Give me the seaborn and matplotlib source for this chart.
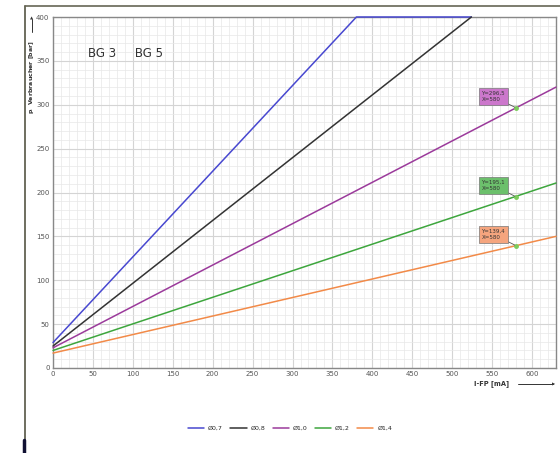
import numpy as np
import pandas as pd
import matplotlib.pyplot as plt
import seaborn as sns
from matplotlib.lines import Line2D
from matplotlib.ticker import MultipleLocator

# Kennlinien p_Verbraucher über I-FP
serien = ['Ø0,7', 'Ø0,8', 'Ø1,0', 'Ø1,2', 'Ø1,4']
farben = ['#4848d0', '#333333', '#9b3a9b', '#3da63d', '#f28a48']
x_07 = [0, 380, 524]
y_07 = [29, 400, 400]
x_08 = [0, 524]
y_08 = [25, 400]
x_10 = [0, 630]
y_10 = [23, 320.1]
x_12 = [0, 630]
y_12 = [20, 210.8]
x_14 = [0, 630]
y_14 = [17, 150.0]

# Markierte Punkte
mark_x = [580, 580, 580]
mark_y = [296.5, 195.1, 139.4]
mark_txt = ['Y=296,5\nX=580', 'Y=195,1\nX=580', 'Y=139,4\nX=580']
mark_col = ['#cc77cc', '#6cc06c', '#f5a57e']

rows = []
for name, xs, ys in zip(serien, [x_07, x_08, x_10, x_12, x_14],
                        [y_07, y_08, y_10, y_12, y_14]):
    for xv, yv in zip(xs, ys):
        rows.append({'I-FP': xv, 'p': yv, 'Düse': name})
df = pd.DataFrame(rows)

sns.set_style('white')
plt.rcParams['font.family'] = ['DejaVu Sans']

fig = plt.figure(figsize=(5.6, 4.53), dpi=100)
ax = fig.add_axes([53 / 560, 1 - 368 / 453, 503 / 560, 351 / 453])

sns.lineplot(data=df, x='I-FP', y='p', hue='Düse', palette=farben,
             sort=False, estimator=None, linewidth=1.1, ax=ax, legend=False)
for ln in ax.lines:
    ln.set_clip_on(False)
    ln.set_zorder(4)

ax.set_xlim(0, 630)
ax.set_ylim(0, 400)
ax.xaxis.set_major_locator(MultipleLocator(50))
ax.yaxis.set_major_locator(MultipleLocator(50))
ax.xaxis.set_minor_locator(MultipleLocator(10))
ax.yaxis.set_minor_locator(MultipleLocator(10))
ax.grid(which='major', color='#d4d4d4', linewidth=0.8)
ax.grid(which='minor', color='#e8e8e8', linewidth=0.5)
ax.set_axisbelow(True)
ax.tick_params(which='both', length=0, labelsize=5, labelcolor='#555555', pad=2.5)
ax.set_xlabel('')
ax.set_ylabel('')
for s in ax.spines.values():
    s.set_color('#888888')
    s.set_linewidth(1.0)

ax.text(44, 358, 'BG 3     BG 5', fontsize=8.5, color='#333333', va='center')

# Datenmarken mit Beschriftung
for mx, my, t, c in zip(mark_x, mark_y, mark_txt, mark_col):
    ax.plot(mx, my, 'o', color='#7ccc5c', markersize=2.5, zorder=6)
    ax.annotate(t, xy=(mx, my), xytext=(-25, 4), textcoords='offset points',
                fontsize=4.0, color='#333333', ha='left', va='bottom',
                linespacing=1.4,
                bbox=dict(boxstyle='square,pad=0.5', fc=c, ec='#777777', lw=0.5),
                arrowprops=dict(arrowstyle='-', color='#555555', lw=0.6,
                                shrinkA=0, shrinkB=1), zorder=7)

# Achsenbeschriftungen mit Pfeilen
fig.text(31 / 560, 1 - 40 / 453, 'p$_{.}$ Verbraucher [bar]', rotation=90,
         fontsize=4.5, fontweight='bold', color='#333333', ha='center', va='top')
fig.add_artist(Line2D([32 / 560, 32 / 560], [1 - 32 / 453, 1 - 19 / 453],
                      color='#333333', lw=0.7))
fig.text(32 / 560, 1 - 18 / 453, '▲', fontsize=3, ha='center', va='center', color='#333333')
fig.text(509 / 560, 1 - 384 / 453, 'I-FP [mA]', fontsize=4.8, fontweight='bold',
         color='#333333', ha='right', va='center')
fig.add_artist(Line2D([518 / 560, 553 / 560], [1 - 384 / 453, 1 - 384 / 453],
                      color='#333333', lw=0.7))
fig.text(554 / 560, 1 - 384 / 453, '▶', fontsize=3, ha='center', va='center', color='#333333')

# Legende
handles = [Line2D([0], [0], color=c, lw=1.1) for c in farben]
fig.legend(handles, serien, loc='center', bbox_to_anchor=(290 / 560, 1 - 428 / 453),
           ncol=5, frameon=False, fontsize=4.5, handlelength=2.6, columnspacing=1.2,
           handletextpad=0.6)

# Fensterrahmen
fig.add_artist(Line2D([25 / 560, 25 / 560], [0, 1 - 6 / 453], color='#555544', lw=1.2))
fig.add_artist(Line2D([25 / 560, 1], [1 - 6 / 453, 1 - 6 / 453], color='#666655', lw=1.2))
fig.add_artist(Line2D([24 / 560, 24 / 560], [0, 13 / 453], color='#111133', lw=2.5))

fig.savefig('out.png', dpi=100)
